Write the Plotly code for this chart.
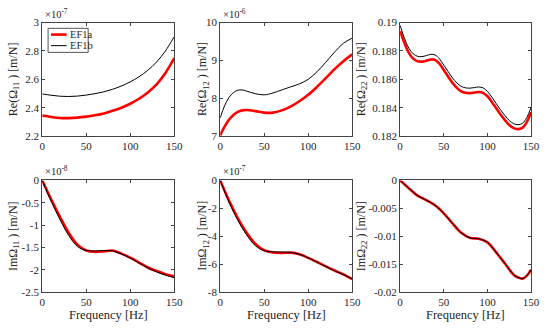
import plotly.graph_objects as go

# ---------------- data ----------------
# Re(Omega11) x1e-7
f1 = [0, 10, 20, 30, 40, 50, 60, 70, 80, 90, 100, 110, 120, 130, 140, 150]
re11_a = [2.345, 2.335, 2.328, 2.327, 2.330, 2.337, 2.347, 2.360, 2.378, 2.400, 2.428, 2.463, 2.508, 2.565, 2.645, 2.750]
re11_b = [2.497, 2.488, 2.481, 2.479, 2.482, 2.489, 2.499, 2.512, 2.530, 2.553, 2.582, 2.618, 2.664, 2.722, 2.800, 2.900]

# Re(Omega12) x1e-6
f2 = [0, 5, 10, 15, 20, 25, 30, 40, 50, 60, 70, 80, 90, 100, 110, 120, 130, 140, 150]
re12_a = [7.02, 7.25, 7.43, 7.56, 7.64, 7.68, 7.69, 7.66, 7.62, 7.62, 7.68, 7.78, 7.92, 8.09, 8.30, 8.53, 8.77, 8.98, 9.16]
re12_b = [7.48, 7.80, 8.02, 8.15, 8.21, 8.22, 8.19, 8.12, 8.09, 8.14, 8.22, 8.30, 8.38, 8.50, 8.70, 8.95, 9.22, 9.45, 9.59]

# Re(Omega22)
f3 = [0, 5, 10, 15, 20, 25, 30, 35, 40, 45, 50, 55, 60, 65, 70, 75, 80, 85, 90, 95, 100,
      105, 110, 115, 120, 125, 130, 135, 140, 145, 150]
re22_a = [0.18940, 0.18855, 0.18787, 0.18746, 0.18727, 0.18725, 0.18731, 0.18740, 0.18737, 0.18710,
          0.18665, 0.18620, 0.18575, 0.18540, 0.18515, 0.18505, 0.18503, 0.18507, 0.18511, 0.18505,
          0.18481, 0.18441, 0.18397, 0.18352, 0.18313, 0.18278, 0.18256, 0.18249, 0.18258, 0.18298, 0.18368]
re22_b = [0.18980, 0.18890, 0.18820, 0.18780, 0.18762, 0.18760, 0.18767, 0.18776, 0.18772, 0.18745,
          0.18700, 0.18655, 0.18610, 0.18575, 0.18550, 0.18540, 0.18538, 0.18542, 0.18546, 0.18540,
          0.18515, 0.18475, 0.18430, 0.18385, 0.18345, 0.18310, 0.18288, 0.18280, 0.18290, 0.18330, 0.18402]

# Im(Omega11) x1e-8
f4 = [0, 10, 20, 30, 40, 50, 60, 70, 80, 90, 100, 110, 120, 130, 140, 150]
im11_a = [0, -0.42, -0.81, -1.17, -1.44, -1.57, -1.60, -1.59, -1.57, -1.64, -1.73, -1.84, -1.95, -2.03, -2.10, -2.15]
im11_b = [0, -0.46, -0.87, -1.23, -1.48, -1.57, -1.58, -1.57, -1.58, -1.65, -1.74, -1.85, -1.96, -2.05, -2.12, -2.18]

# Im(Omega12) x1e-7
f5 = [0, 10, 20, 30, 40, 50, 60, 70, 80, 90, 100, 110, 120, 130, 140, 150]
im12_a = [0, -1.45, -2.70, -3.75, -4.55, -5.00, -5.17, -5.20, -5.18, -5.30, -5.55, -5.85, -6.16, -6.46, -6.74, -7.08]
im12_b = [0, -1.55, -2.85, -3.90, -4.68, -5.05, -5.12, -5.13, -5.17, -5.30, -5.55, -5.86, -6.18, -6.48, -6.76, -7.05]

# Im(Omega22)
f6 = [0, 10, 20, 30, 40, 50, 60, 70, 80, 90, 100, 110, 120, 130, 135, 140, 145, 150]
im22_a = [0, -0.0014, -0.00274, -0.00354, -0.00446, -0.0059, -0.0077, -0.0094, -0.0103, -0.01046,
          -0.0111, -0.0129, -0.0149, -0.0169, -0.0174, -0.0176, -0.0171, -0.0160]
im22_b = [0, -0.0014, -0.00274, -0.00354, -0.00446, -0.0059, -0.0077, -0.0094, -0.0103, -0.01046,
          -0.0111, -0.0129, -0.0149, -0.0169, -0.0174, -0.0176, -0.0171, -0.0160]

series_names = ["EF1a", "EF1b"]
x_ticks = [0, 50, 100, 150]

panels = [
    (f1, re11_a, re11_b, [2.2, 3.0], [2.2, 2.4, 2.6, 2.8, 3.0], ["2.2", "2.4", "2.6", "2.8", "3"],
     "Re(Ω<sub>11</sub> ) [m/N]", "×10<sup>-7</sup>"),
    (f2, re12_a, re12_b, [7, 10], [7, 8, 9, 10], ["7", "8", "9", "10"],
     "Re(Ω<sub>12</sub> ) [m/N]", "×10<sup>-6</sup>"),
    (f3, re22_a, re22_b, [0.182, 0.19], [0.182, 0.184, 0.186, 0.188, 0.19],
     ["0.182", "0.184", "0.186", "0.188", "0.19"], "Re(Ω<sub>22</sub> ) [m/N]", None),
    (f4, im11_a, im11_b, [-2.5, 0], [-2.5, -2, -1.5, -1, -0.5, 0], ["-2.5", "-2", "-1.5", "-1", "-0.5", "0"],
     "ImΩ<sub>11</sub> ) [m/N]", "×10<sup>-8</sup>"),
    (f5, im12_a, im12_b, [-8, 0], [-8, -6, -4, -2, 0], ["-8", "-6", "-4", "-2", "0"],
     "ImΩ<sub>12</sub> ) [m/N]", "×10<sup>-7</sup>"),
    (f6, im22_a, im22_b, [-0.02, 0], [-0.02, -0.015, -0.01, -0.005, 0],
     ["-0.02", "-0.015", "-0.01", "-0.005", "0"], "ImΩ<sub>22</sub> ) [m/N]", None),
]

W, H = 550, 329
ML, MR, MT, MB = 5, 5, 5, 5
PW, PH = W - ML - MR, H - MT - MB


def px(x):
    return (x - ML) / PW


def py(y):
    return 1 - (y - MT) / PH


xdoms = [(40, 175), (222, 357), (406, 540)]
ydoms = [(17, 135), (181, 297)]
title_x = [11, 205, 367]
FONT = "Liberation Serif, Times New Roman, serif"
TXT = "#262626"
AX = "#444444"
TICK_SIZE = 11

fig = go.Figure()
layout = dict(
    width=W, height=H, margin=dict(l=ML, r=MR, t=MT, b=MB),
    paper_bgcolor="white", plot_bgcolor="white",
    font=dict(family=FONT, size=12, color=TXT),
    showlegend=False,
)
annotations = []
shapes = []

for i, (fx, ya, yb, yr, tv, tt, ttl, expo) in enumerate(panels):
    r, c = divmod(i, 3)
    n = i + 1
    xa = "x" if n == 1 else f"x{n}"
    ya_ = "y" if n == 1 else f"y{n}"
    fig.add_trace(go.Scatter(x=fx, y=ya, mode="lines", name=series_names[0],
                             line=dict(color="#ff0000", width=2.6, shape="spline"),
                             xaxis=xa, yaxis=ya_))
    fig.add_trace(go.Scatter(x=fx, y=yb, mode="lines", name=series_names[1],
                             line=dict(color="#000000", width=1, shape="spline"),
                             xaxis=xa, yaxis=ya_))
    x0, x1 = xdoms[c]
    y0, y1 = ydoms[r]
    xkey = "xaxis" if n == 1 else f"xaxis{n}"
    ykey = "yaxis" if n == 1 else f"yaxis{n}"
    layout[xkey] = dict(domain=[px(x0), px(x1)], range=[0, 150], tickvals=x_ticks,
                        ticktext=[str(v) for v in x_ticks], anchor=ya_,
                        showline=True, linecolor=AX, linewidth=1, mirror="ticks",
                        ticks="inside", ticklen=3, tickcolor=AX, showgrid=False, zeroline=False,
                        ticklabeloverflow="allow",
                        tickfont=dict(family=FONT, size=TICK_SIZE, color=TXT))
    layout[ykey] = dict(domain=[py(y1), py(y0)], range=yr, tickvals=tv, ticktext=tt, anchor=xa,
                        showline=True, linecolor=AX, linewidth=1, mirror="ticks",
                        ticks="inside", ticklen=3, tickcolor=AX, showgrid=False, zeroline=False,
                        ticklabeloverflow="allow",
                        tickfont=dict(family=FONT, size=TICK_SIZE, color=TXT))
    if r == 1:
        annotations.append(dict(text="Frequency [Hz]", x=px((x0 + x1) / 2), y=py(321), xref="paper", yref="paper",
                                showarrow=False, xanchor="center", yanchor="middle",
                                font=dict(family=FONT, size=12.5, color=TXT)))
    annotations.append(dict(text=ttl, x=px(title_x[c]), y=py((y0 + y1) / 2), xref="paper", yref="paper",
                            textangle=-90, showarrow=False, xanchor="center", yanchor="middle",
                            font=dict(family=FONT, size=12, color=TXT)))
    if expo:
        annotations.append(dict(text=expo, x=px(x0 + 1), y=py(y0 - 1), xref="paper", yref="paper",
                                showarrow=False, xanchor="left", yanchor="bottom",
                                font=dict(family=FONT, size=10.5, color=TXT)))

# legend box (top-left panel)
shapes.append(dict(type="rect", xref="paper", yref="paper", x0=px(46), x1=px(87), y0=py(48), y1=py(23),
                   line=dict(color="#555555", width=1), fillcolor="white"))
for k, (nm, col, wd) in enumerate(zip(series_names, ["#ff0000", "#000000"], [2.6, 1])):
    yy = 29.5 + k * 11.5
    shapes.append(dict(type="line", xref="paper", yref="paper", x0=px(49), x1=px(65), y0=py(yy), y1=py(yy),
                       line=dict(color=col, width=wd)))
    annotations.append(dict(text=nm, x=px(66), y=py(yy), xref="paper", yref="paper", showarrow=False,
                            xanchor="left", yanchor="middle", font=dict(family=FONT, size=10.5, color=TXT)))

layout["annotations"] = annotations
layout["shapes"] = shapes
fig.update_layout(**layout)
fig.write_html("out.html", config={"displayModeBar": False},
               post_script="document.body.style.margin='0';document.body.style.overflow='hidden';")
